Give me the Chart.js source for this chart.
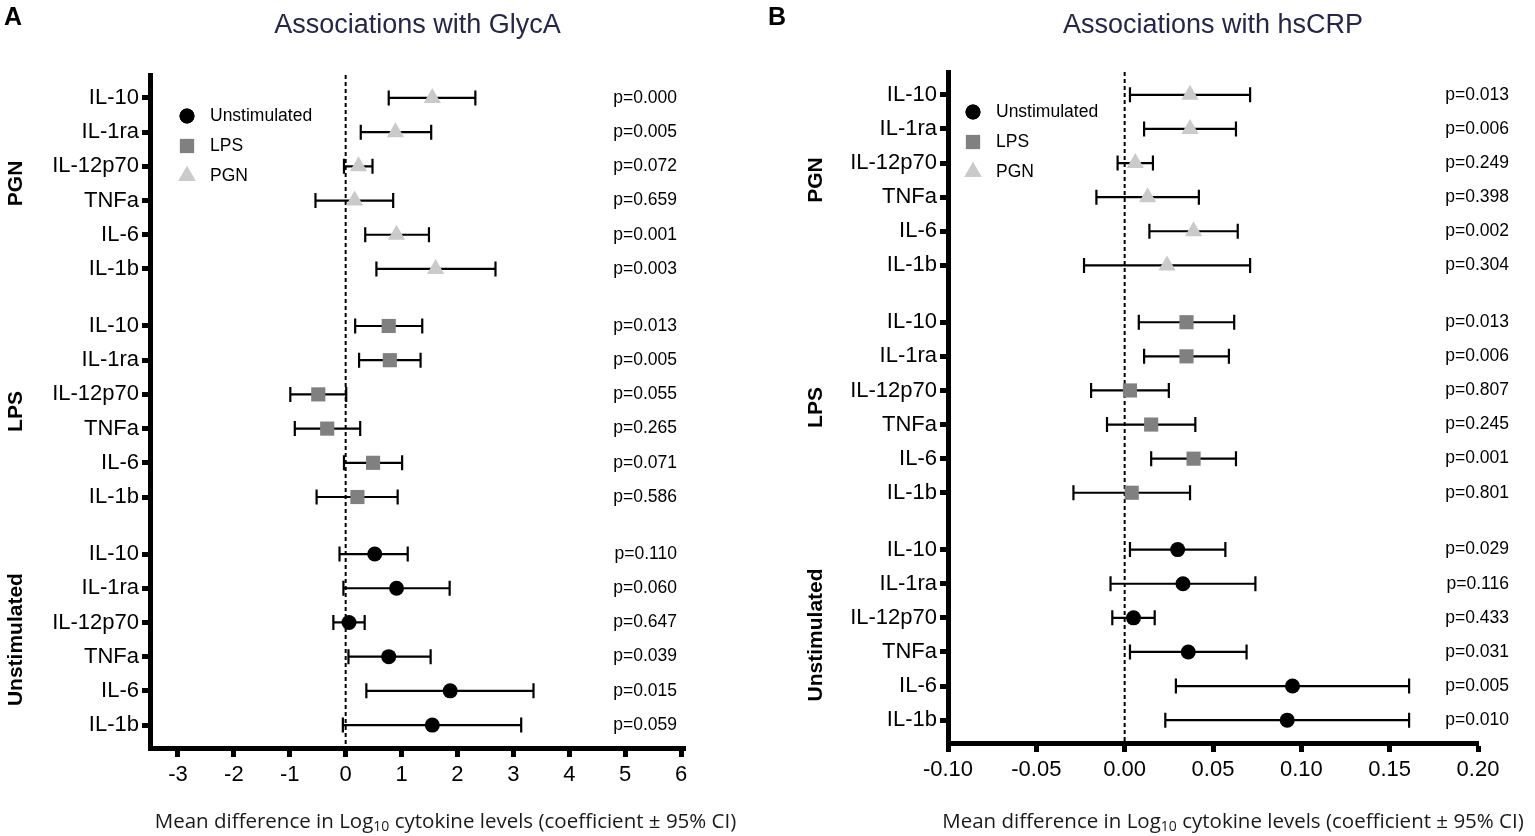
<!DOCTYPE html>
<html>
<head>
<meta charset="utf-8">
<script src="https://cdn.jsdelivr.net/npm/chart.js@4.4.1/dist/chart.umd.min.js"></script>
<style>
  html, body { margin: 0; padding: 0; background: #fff; }
  #wrap { position: relative; width: 1535px; height: 836px; }
  canvas { position: absolute; top: 0; }
  #chartA { left: 0; }
  #chartB { left: 760px; }
</style>
</head>
<body>
<div id="wrap">
  <canvas id="chartA" width="760" height="836"></canvas>
  <canvas id="chartB" width="775" height="836"></canvas>
</div>
<script>
// row groups top to bottom, cytokines top to bottom inside each group
const groups = ["PGN", "LPS", "Unstimulated"];
const cytokines = ["IL-10", "IL-1ra", "IL-12p70", "TNFa", "IL-6", "IL-1b"];

// GlycA panel: coefficient and 95% CI
const glycaPgnMean = [1.55, 0.89, 0.23, 0.16, 0.91, 1.61];
const glycaPgnLow = [0.77, 0.27, -0.03, -0.54, 0.35, 0.55];
const glycaPgnHigh = [2.32, 1.53, 0.48, 0.85, 1.49, 2.68];
const glycaPgnP = ["0.000", "0.005", "0.072", "0.659", "0.001", "0.003"];

const glycaLpsMean = [0.77, 0.79, -0.49, -0.33, 0.49, 0.21];
const glycaLpsLow = [0.17, 0.24, -0.99, -0.91, -0.03, -0.52];
const glycaLpsHigh = [1.37, 1.34, 0.01, 0.26, 1.01, 0.93];
const glycaLpsP = ["0.013", "0.005", "0.055", "0.265", "0.071", "0.586"];

const glycaUnsMean = [0.52, 0.91, 0.06, 0.77, 1.87, 1.55];
const glycaUnsLow = [-0.11, -0.04, -0.22, 0.05, 0.37, -0.05];
const glycaUnsHigh = [1.11, 1.86, 0.34, 1.52, 3.36, 3.14];
const glycaUnsP = ["0.110", "0.060", "0.647", "0.039", "0.015", "0.059"];

// hsCRP panel
const crpPgnMean = [0.037, 0.037, 0.006, 0.013, 0.039, 0.024];
const crpPgnLow = [0.003, 0.011, -0.004, -0.016, 0.014, -0.023];
const crpPgnHigh = [0.071, 0.063, 0.016, 0.042, 0.064, 0.071];
const crpPgnP = ["0.013", "0.006", "0.249", "0.398", "0.002", "0.304"];

const crpLpsMean = [0.035, 0.035, 0.003, 0.015, 0.039, 0.004];
const crpLpsLow = [0.008, 0.011, -0.019, -0.010, 0.015, -0.029];
const crpLpsHigh = [0.062, 0.059, 0.025, 0.040, 0.063, 0.037];
const crpLpsP = ["0.013", "0.006", "0.807", "0.245", "0.001", "0.801"];

const crpUnsMean = [0.030, 0.033, 0.005, 0.036, 0.095, 0.092];
const crpUnsLow = [0.003, -0.008, -0.007, 0.003, 0.029, 0.023];
const crpUnsHigh = [0.057, 0.074, 0.017, 0.069, 0.161, 0.161];
const crpUnsP = ["0.029", "0.116", "0.433", "0.031", "0.005", "0.010"];

// x-axis tick labels
const glycaTicks = [-3, -2, -1, 0, 1, 2, 3, 4, 5, 6];
const crpTicks = [-0.10, -0.05, 0.00, 0.05, 0.10, 0.15, 0.20];

const GROUP_STEP = cytokines.length - 1 + 1.667; // rows plus the blank gap between groups
const rowPos = (g, i) => g * GROUP_STEP + i;
const yMax = rowPos(groups.length - 1, cytokines.length - 1);

const rowTicks = [];
groups.forEach((g, gi) => cytokines.forEach((c, ci) => rowTicks.push({ value: rowPos(gi, ci), label: c })));

function series(gi, mean, low, high) {
    return mean.map((m, i) => ({ x: m, y: rowPos(gi, i), low: low[i], high: high[i] }));
}

function drawMarker(ctx, style, r, x, y) {
    if (Chart.helpers && Chart.helpers.drawPoint) {
        Chart.helpers.drawPoint(ctx, { pointStyle: style, radius: r, rotation: 0, borderWidth: 0 }, x, y);
        ctx.fill();
    }
}

const forestPlugin = {
    id: "forest",
    beforeDatasetsDraw(chart) {
        const ctx = chart.ctx, xs = chart.scales.x, ys = chart.scales.y, area = chart.chartArea;
        ctx.save();
        // dashed line at zero
        const x0 = xs.getPixelForValue(0);
        ctx.strokeStyle = "#000";
        ctx.lineWidth = 2;
        ctx.setLineDash([4, 3]);
        ctx.beginPath();
        ctx.moveTo(x0, area.top);
        ctx.lineTo(x0, area.bottom);
        ctx.stroke();
        ctx.setLineDash([]);
        // confidence intervals
        ctx.lineWidth = 2.2;
        chart.data.datasets.forEach(ds => {
            ds.data.forEach(pt => {
                const py = ys.getPixelForValue(pt.y);
                const a = xs.getPixelForValue(pt.low), b = xs.getPixelForValue(pt.high);
                ctx.beginPath();
                ctx.moveTo(a, py); ctx.lineTo(b, py);
                ctx.moveTo(a, py - 7.5); ctx.lineTo(a, py + 7.5);
                ctx.moveTo(b, py - 7.5); ctx.lineTo(b, py + 7.5);
                ctx.stroke();
            });
        });
        ctx.restore();
    },
    afterDraw(chart, args, opts) {
        const ctx = chart.ctx, ys = chart.scales.y, area = chart.chartArea;
        const cx = (area.left + area.right) / 2;
        ctx.save();
        ctx.textBaseline = "middle";

        // panel letter and title
        ctx.fillStyle = "#000";
        ctx.font = "bold 25px 'Liberation Sans', Arial, sans-serif";
        ctx.textAlign = "left";
        ctx.fillText(opts.letter, opts.letterX, 18);
        ctx.fillStyle = "#24264a";
        ctx.font = "27px 'Liberation Sans', Arial, sans-serif";
        ctx.textAlign = "center";
        ctx.fillText(opts.title, cx, 26);

        // group labels, rotated
        ctx.fillStyle = "#000";
        ctx.font = "bold 21px 'Liberation Sans', Arial, sans-serif";
        groups.forEach((g, gi) => {
            const yc = (ys.getPixelForValue(rowPos(gi, 0)) + ys.getPixelForValue(rowPos(gi, cytokines.length - 1))) / 2;
            ctx.save();
            ctx.translate(opts.groupX, yc);
            ctx.rotate(-Math.PI / 2);
            ctx.fillText(g, 0, 0);
            ctx.restore();
        });

        // p values
        ctx.font = "17.5px 'Liberation Sans', Arial, sans-serif";
        ctx.textAlign = "right";
        opts.pValues.forEach((list, gi) => list.forEach((p, i) => {
            ctx.fillText("p=" + p, area.right + opts.pOffset, ys.getPixelForValue(rowPos(gi, i)));
        }));

        // legend
        ctx.textAlign = "left";
        chart.data.datasets.forEach((ds, k) => {
            const lx = area.left + opts.legendX, ly = area.top + opts.legendY + k * 30;
            ctx.fillStyle = ds.backgroundColor;
            drawMarker(ctx, ds.pointStyle, ds.pointRadius, lx, ly);
            ctx.fillStyle = "#000";
            ctx.fillText(ds.label, lx + 23, ly);
        });

        // x-axis title with subscript
        const parts = [["Mean difference in Log", 20.5, 0], ["10", 14, 5], [" cytokine levels (coefficient \u00b1 95% CI)", 20.5, 0]];
        let total = 0;
        parts.forEach(p => { ctx.font = p[1] + "px 'Open Sans', sans-serif"; total += ctx.measureText(p[0]).width; });
        let tx = cx + opts.xTitleShift - total / 2;
        ctx.fillStyle = "#1a1a1a";
        parts.forEach(p => {
            ctx.font = p[1] + "px 'Open Sans', sans-serif";
            ctx.fillText(p[0], tx, 822 + p[2]);
            tx += ctx.measureText(p[0]).width;
        });
        ctx.restore();
    }
};

function makeChart(id, cfg) {
    const datasets = [
        { label: "Unstimulated", data: series(2, cfg.uns[0], cfg.uns[1], cfg.uns[2]), pointStyle: "circle", pointRadius: 7.5, backgroundColor: "#000000" },
        { label: "LPS", data: series(1, cfg.lps[0], cfg.lps[1], cfg.lps[2]), pointStyle: "rect", pointRadius: 10, backgroundColor: "#808080" },
        { label: "PGN", data: series(0, cfg.pgn[0], cfg.pgn[1], cfg.pgn[2]), pointStyle: "triangle", pointRadius: 10, backgroundColor: "#cacaca" }
    ];
    datasets.forEach(d => { d.borderWidth = 0; d.pointBorderWidth = 0; d.pointBackgroundColor = d.backgroundColor; });

    const axisFont = { family: "'Liberation Sans', Arial, sans-serif", size: 22 };
    return new Chart(document.getElementById(id), {
        type: "scatter",
        data: { datasets: datasets },
        plugins: [forestPlugin],
        options: {
            responsive: false,
            animation: false,
            events: [],
            layout: { padding: cfg.padding },
            scales: {
                x: {
                    type: "linear",
                    min: cfg.xMin,
                    max: cfg.xMax,
                    afterBuildTicks: s => { s.ticks = cfg.ticks.map(v => ({ value: v })); },
                    afterFit: s => { s.height = 40; },
                    ticks: { font: axisFont, color: "#000", padding: 5, maxRotation: 0, callback: v => cfg.fmt(v) },
                    grid: { drawOnChartArea: false, drawTicks: true, tickLength: 9, tickWidth: 5, tickColor: "#000" },
                    border: { display: true, width: 5, color: "#000" }
                },
                y: {
                    type: "linear",
                    reverse: true,
                    min: -0.67,
                    max: yMax + 0.67,
                    afterBuildTicks: s => { s.ticks = rowTicks.map(t => ({ value: t.value })); },
                    afterFit: s => { s.width = cfg.yWidth; },
                    ticks: { font: axisFont, color: "#000", padding: 3, callback: (v, i) => rowTicks[i].label },
                    grid: { drawOnChartArea: false, drawTicks: true, tickLength: 8, tickWidth: 5, tickColor: "#000" },
                    border: { display: true, width: 5, color: "#000" }
                }
            },
            plugins: {
                legend: { display: false },
                tooltip: { enabled: false },
                forest: {
                    letter: cfg.letter, letterX: cfg.letterX, title: cfg.title,
                    groupX: cfg.groupX, pValues: cfg.pValues, pOffset: cfg.pOffset,
                    legendX: cfg.legendX, legendY: cfg.legendY, xTitleShift: cfg.xTitleShift
                }
            }
        }
    });
}

makeChart("chartA", {
    pgn: [glycaPgnMean, glycaPgnLow, glycaPgnHigh],
    lps: [glycaLpsMean, glycaLpsLow, glycaLpsHigh],
    uns: [glycaUnsMean, glycaUnsLow, glycaUnsHigh],
    pValues: [glycaPgnP, glycaLpsP, glycaUnsP],
    ticks: glycaTicks, fmt: v => String(v),
    xMin: -3.5, xMax: 6.07,
    padding: { left: 0, right: 75, top: 75, bottom: 48 },
    yWidth: 150,
    letter: "A", letterX: 4, title: "Associations with GlycA",
    groupX: 16, pOffset: -8, legendX: 37, legendY: 41, xTitleShift: 28
});

makeChart("chartB", {
    pgn: [crpPgnMean, crpPgnLow, crpPgnHigh],
    lps: [crpLpsMean, crpLpsLow, crpLpsHigh],
    uns: [crpUnsMean, crpUnsLow, crpUnsHigh],
    pValues: [crpPgnP, crpLpsP, crpUnsP],
    ticks: crpTicks, fmt: v => v.toFixed(2),
    xMin: -0.10, xMax: 0.20,
    padding: { left: 0, right: 57, top: 72, bottom: 53 },
    yWidth: 188,
    letter: "B", letterX: 8, title: "Associations with hsCRP",
    groupX: 56, pOffset: 31, legendX: 25, legendY: 40, xTitleShift: 20
});
</script>
</body>
</html>
